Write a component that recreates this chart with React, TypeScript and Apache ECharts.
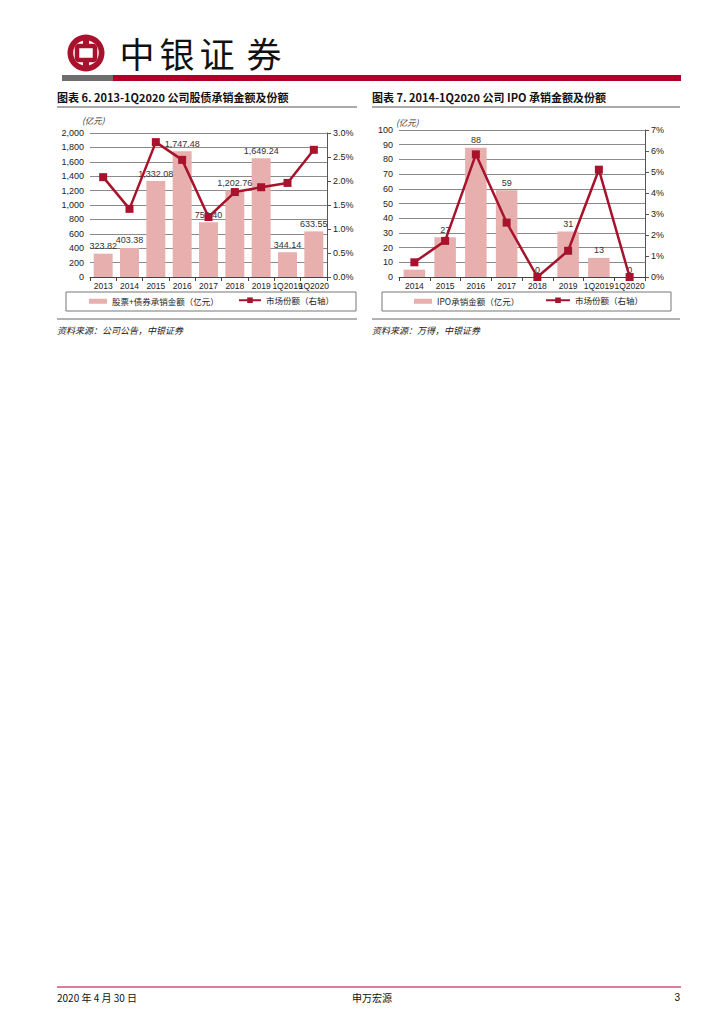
import React, { useEffect, useRef } from "react";
import * as echarts from "echarts";

const catsA = ["2013", "2014", "2015", "2016", "2017", "2018", "2019", "1Q2019", "1Q2020"];
const amountA = [323.82, 403.38, 1332.08, 1747.48, 759.4, 1202.76, 1649.24, 344.14, 633.55];
const shareA = [2.08, 1.42, 2.81, 2.44, 1.25, 1.77, 1.87, 1.96, 2.65];
const leftTicksA = { min: 0, max: 2000, interval: 200 };
const rightTicksA = { min: 0, max: 3, interval: 0.5 };

const catsB = ["2014", "2015", "2016", "2017", "2018", "2019", "1Q2019", "1Q2020"];
const amountB = [5, 27, 88, 59, 0, 31, 13, 0];
const shareB = [0.7, 1.72, 5.84, 2.59, 0, 1.25, 5.11, 0];
const leftTicksB = { min: 0, max: 100, interval: 10 };
const rightTicksB = { min: 0, max: 7, interval: 1 };

const RED = "#A8122C";
const PINK = "#E7AFAE";
const GRID = "#8a8a8a";
const NUM_FONT = "Liberation Sans, Arial, sans-serif";
const CJK = "Noto Sans CJK SC";

function fmtThousands(v: number, dec: number) {
  const s = v.toFixed(dec);
  const [i, d] = s.split(".");
  const ii = i.replace(/\B(?=(\d{3})+(?!\d))/g, ",");
  return d ? ii + "." + d : ii;
}

export default function App() {
  const ref = useRef<HTMLDivElement>(null);
  useEffect(() => {
    if (!ref.current) return;
    const chart = echarts.init(ref.current, undefined, { renderer: "svg", width: 725, height: 1024 });

    const axisLabel = { fontSize: 9, color: "#222", fontFamily: NUM_FONT };
    const xAxisCommon = {
      type: "category" as const,
      axisLine: { show: true, lineStyle: { color: "#444", width: 1 } },
      axisTick: { show: true, length: 4, lineStyle: { color: "#444" } },
      axisLabel: { ...axisLabel, fontSize: 8.5, interval: 0, margin: 4, hideOverlap: false },
    };
    const yLeftCommon = {
      type: "value" as const,
      axisLine: { show: false },
      axisTick: { show: false },
      splitLine: { show: true, lineStyle: { color: GRID, width: 1 } },
    };
    const yRightCommon = {
      type: "value" as const,
      position: "right" as const,
      axisLine: { show: true, lineStyle: { color: "#555", width: 1 } },
      axisTick: { show: true, length: 4, inside: false, lineStyle: { color: "#555" } },
      splitLine: { show: false },
    };

    const legendText = { fontSize: 8.5, color: "#222", fontFamily: CJK };

    const option: any = {
      animation: false,
      grid: [
        { left: 90, right: 725 - 327, top: 133, height: 144 },
        { left: 399, right: 725 - 645, top: 130, height: 147 },
      ],
      xAxis: [
        { ...xAxisCommon, gridIndex: 0, data: catsA },
        { ...xAxisCommon, gridIndex: 1, data: catsB },
      ],
      yAxis: [
        {
          ...yLeftCommon,
          gridIndex: 0,
          ...leftTicksA,
          axisLabel: { ...axisLabel, margin: 6, formatter: (v: number) => fmtThousands(v, 0) },
        },
        {
          ...yRightCommon,
          gridIndex: 0,
          ...rightTicksA,
          axisLabel: { ...axisLabel, margin: 6, formatter: (v: number) => v.toFixed(1) + "%" },
        },
        {
          ...yLeftCommon,
          gridIndex: 1,
          ...leftTicksB,
          axisLabel: { ...axisLabel, margin: 6 },
        },
        {
          ...yRightCommon,
          gridIndex: 1,
          ...rightTicksB,
          axisLabel: { ...axisLabel, margin: 6, formatter: (v: number) => v + "%" },
        },
      ],
      legend: [
        {
          left: 89, top: 297, itemWidth: 18, itemHeight: 5, itemGap: 4,
          data: [{ name: "股票+债券承销金额（亿元）", icon: "rect" }],
          textStyle: legendText, padding: 0,
        },
        {
          left: 238, top: 296, itemWidth: 22, itemHeight: 7,
          data: ["市场份额（右轴）"], textStyle: legendText, padding: 0,
        },
        {
          left: 414, top: 297, itemWidth: 18, itemHeight: 5,
          data: [{ name: "IPO承销金额（亿元）", icon: "rect" }],
          textStyle: legendText, padding: 0,
        },
        {
          left: 545, top: 296, itemWidth: 24, itemHeight: 7,
          data: ["市场份额（右轴） "], textStyle: legendText, padding: 0,
        },
      ],
      series: [
        {
          name: "股票+债券承销金额（亿元）",
          type: "bar",
          xAxisIndex: 0, yAxisIndex: 0,
          data: amountA,
          barWidth: "72%",
          itemStyle: { color: PINK },
          label: {
            show: true, position: "top", distance: 3, fontSize: 9, color: "#333",
            fontFamily: NUM_FONT,
            formatter: (p: any) => fmtThousands(p.value, 2),
          },
        },
        {
          name: "市场份额（右轴）",
          type: "line",
          xAxisIndex: 0, yAxisIndex: 1,
          data: shareA,
          symbol: "rect", symbolSize: 8,
          lineStyle: { color: RED, width: 2.5 },
          itemStyle: { color: RED },
        },
        {
          name: "IPO承销金额（亿元）",
          type: "bar",
          xAxisIndex: 1, yAxisIndex: 2,
          data: amountB,
          barWidth: "70%",
          itemStyle: { color: PINK },
          label: {
            show: true, position: "top", distance: 3, fontSize: 9, color: "#333",
            fontFamily: NUM_FONT,
          },
        },
        {
          name: "市场份额（右轴） ",
          type: "line",
          xAxisIndex: 1, yAxisIndex: 3,
          data: shareB,
          symbol: "rect", symbolSize: 8,
          lineStyle: { color: RED, width: 2.5 },
          itemStyle: { color: RED },
        },
      ],
      graphic: [
        // header logo
        { type: "ring", shape: { cx: 86, cy: 53, r: 18.5, r0: 12.8 }, style: { fill: RED } },
        { type: "rect", shape: { x: 77, y: 46, width: 18, height: 14, r: 2 }, style: { fill: "none", stroke: RED, lineWidth: 4.5 } },
        { type: "rect", shape: { x: 83, y: 37, width: 6, height: 9 }, style: { fill: RED } },
        { type: "rect", shape: { x: 83, y: 60, width: 6, height: 9 }, style: { fill: RED } },
        ...["中", "银", "证", "券"].map((c, i) => ({
          type: "text",
          x: [137, 177, 217, 264][i],
          y: 52,
          style: { text: c, fontSize: 35, fontFamily: CJK, fill: "#111", align: "center", verticalAlign: "middle" },
        })),
        { type: "rect", shape: { x: 62, y: 75, width: 51, height: 6 }, style: { fill: "#6e6e6e" } },
        { type: "rect", shape: { x: 113, y: 75, width: 568, height: 6 }, style: { fill: "#B0002A" } },

        // chart titles
        { type: "text", x: 57, y: 97, style: { text: "图表 6. 2013-1Q2020 公司股债承销金额及份额", fontSize: 11, fontWeight: "bold", fontFamily: CJK, fill: "#111", verticalAlign: "middle" } },
        { type: "line", shape: { x1: 57, y1: 107, x2: 357, y2: 107 }, style: { stroke: "#555", lineWidth: 1 } },
        { type: "text", x: 372, y: 97, style: { text: "图表 7. 2014-1Q2020 公司 IPO 承销金额及份额", fontSize: 11, fontWeight: "bold", fontFamily: CJK, fill: "#111", verticalAlign: "middle" } },
        { type: "line", shape: { x1: 372, y1: 107, x2: 680, y2: 107 }, style: { stroke: "#555", lineWidth: 1 } },

        // unit labels
        { type: "text", x: 82, y: 120, style: { text: "(亿元)", fontSize: 8.5, fontStyle: "italic", fontFamily: CJK, fill: "#333", verticalAlign: "middle" } },
        { type: "text", x: 396, y: 122, style: { text: "(亿元)", fontSize: 8.5, fontStyle: "italic", fontFamily: CJK, fill: "#333", verticalAlign: "middle" } },

        // legend boxes
        { type: "rect", z: -1, shape: { x: 66, y: 292, width: 290, height: 19 }, style: { fill: "none", stroke: "#777", lineWidth: 1 } },
        { type: "rect", z: -1, shape: { x: 382, y: 292, width: 289, height: 19 }, style: { fill: "none", stroke: "#777", lineWidth: 1 } },

        // source lines
        { type: "line", shape: { x1: 57, y1: 319, x2: 357, y2: 319 }, style: { stroke: "#666", lineWidth: 1 } },
        { type: "line", shape: { x1: 372, y1: 319, x2: 680, y2: 319 }, style: { stroke: "#666", lineWidth: 1 } },
        { type: "text", x: 57, y: 330, style: { text: "资料来源：公司公告，中银证券", fontSize: 9, fontStyle: "italic", fontFamily: CJK, fill: "#222", verticalAlign: "middle" } },
        { type: "text", x: 372, y: 330, style: { text: "资料来源：万得，中银证券", fontSize: 9, fontStyle: "italic", fontFamily: CJK, fill: "#222", verticalAlign: "middle" } },

        // footer
        { type: "line", shape: { x1: 57, y1: 987, x2: 681, y2: 987 }, style: { stroke: "#B0002A", lineWidth: 1.2 } },
        { type: "text", x: 57, y: 997, style: { text: "2020 年 4 月 30 日", fontSize: 10, fontFamily: CJK, fill: "#111", verticalAlign: "middle" } },
        { type: "text", x: 372, y: 997, style: { text: "申万宏源", fontSize: 10, fontFamily: CJK, fill: "#111", align: "center", verticalAlign: "middle" } },
        { type: "text", x: 680, y: 997, style: { text: "3", fontSize: 10, fontFamily: NUM_FONT, fill: "#111", align: "right", verticalAlign: "middle" } },
      ],
    };
    chart.setOption(option);
    return () => chart.dispose();
  }, []);
  return (
    <div
      ref={ref}
      style={{ position: "absolute", left: 0, top: 0, width: 725, height: 1024, background: "#fff" }}
    />
  );
}
